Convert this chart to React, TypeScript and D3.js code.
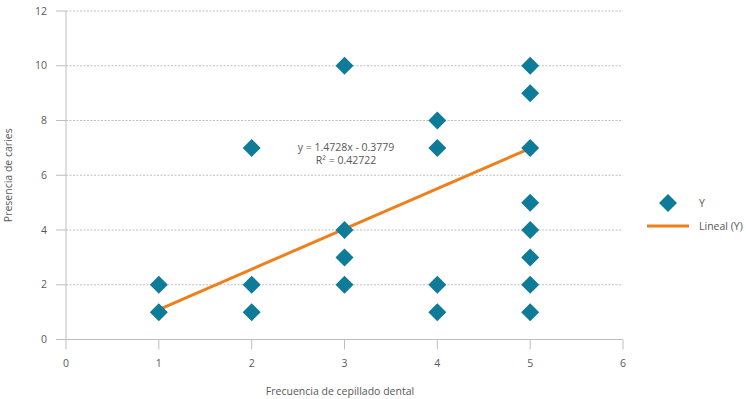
import React from 'react';
import { scaleLinear, line, range } from 'd3';

// observed points (frecuencia, caries)
const xValues = [1, 1, 2, 2, 2, 3, 3, 3, 3, 4, 4, 4, 4, 5, 5, 5, 5, 5, 5, 5, 5];
const yValues = [1, 2, 1, 2, 7, 2, 3, 4, 10, 1, 2, 7, 8, 1, 2, 3, 4, 5, 7, 9, 10];
const trendSlope = 1.4728;
const trendIntercept = -0.3779;
const trendRange = [1, 5];
const equationLines = ['y = 1.4728x - 0.3779', 'R² = 0.42722'];
const legendLabels = ['Y', 'Lineal (Y)'];

const App = () => {
    let svgWidth = 746;
    let svgHeight = 399;
    let margin = { top: 11, left: 66, right: 123, bottom: 59 };
    const font = "'Open Sans', 'Noto Sans', sans-serif";
    const teal = '#0E7C98';
    const orange = '#EF7F1A';
    const grey = '#595959';
    const fs = 10.5;

    let x = scaleLinear().domain([0, 6]).range([margin.left, svgWidth - margin.right]);
    let y = scaleLinear().domain([0, 12]).range([svgHeight - margin.bottom - 0.5, margin.top]);

    let trendFunc = line<number>().x(d => x(d)).y(d => y(trendSlope * d + trendIntercept));
    // diamond marker, equal width & height
    let diamondPath = 'M0,-9L9,0L0,9L-9,0Z';

    const x0 = x(0), x6 = x(6), y0 = y(0);

    return (
        <svg width={svgWidth} height={svgHeight} style={{ position: 'absolute', left: 0, top: 0, fontFamily: font }}>
            {range(2, 13, 2).map(v => (
                <line key={'g' + v} x1={x0} x2={x6} y1={y(v)} y2={y(v)} stroke='#BFBFBF' strokeWidth={1} strokeDasharray='2,1.5' />
            ))}
            {range(0, 13, 2).map(v => (
                <g key={'yt' + v}>
                    <line x1={x0 - 10} x2={x0} y1={y(v)} y2={y(v)} stroke='#BFBFBF' />
                    <text x={47} y={y(v)} dy='0.35em' textAnchor='end' fontSize={fs} fill={grey}>{v}</text>
                </g>
            ))}
            <line x1={x0} x2={x0} y1={y(12)} y2={y0} stroke='#BFBFBF' />
            <line x1={x0 - 10} x2={x6} y1={y0} y2={y0} stroke='#BFBFBF' />
            {range(0, 7).map(v => (
                <g key={'xt' + v}>
                    <line x1={x(v)} x2={x(v)} y1={y0} y2={y0 + 10} stroke='#BFBFBF' />
                    <text x={x(v)} y={363} dy='0.35em' textAnchor='middle' fontSize={fs} fill={grey}>{v}</text>
                </g>
            ))}
            <path d={trendFunc(trendRange) || ''} fill='none' stroke={orange} strokeWidth={3} />
            {xValues.map((xv, i) => (
                <path key={'p' + i} d={diamondPath} transform={`translate(${x(xv)},${y(yValues[i])})`} fill={teal} />
            ))}
            <text x={346} y={147} dy='0.35em' textAnchor='middle' fontSize={fs} fill={grey}>{equationLines[0]}</text>
            <text x={346} y={160.5} dy='0.35em' textAnchor='middle' fontSize={fs} fill={grey}>{equationLines[1]}</text>
            <text transform={`translate(8,${(y(12) + y0) / 2}) rotate(-90)`} dy='0.35em' textAnchor='middle' fontSize={fs} fill={grey}>Presencia de caries</text>
            <text x={340} y={391} dy='0.35em' textAnchor='middle' fontSize={fs} fill={grey}>Frecuencia de cepillado dental</text>
            <path d={diamondPath} transform='translate(668,203)' fill={teal} />
            <text x={699} y={203} dy='0.35em' fontSize={fs} fill={grey}>{legendLabels[0]}</text>
            <line x1={647} x2={689} y1={226} y2={226} stroke={orange} strokeWidth={3} />
            <text x={699} y={226} dy='0.35em' fontSize={fs} fill={grey}>{legendLabels[1]}</text>
        </svg>
    );
}

export default App;
